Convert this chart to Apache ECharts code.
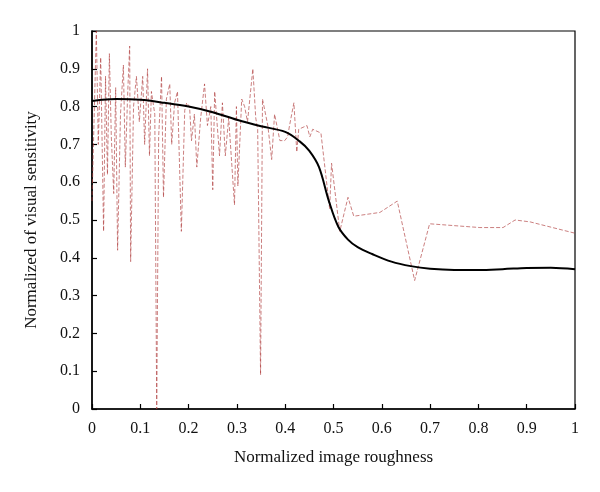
<!DOCTYPE html>
<html><head><meta charset="utf-8">
<script src="https://cdn.jsdelivr.net/npm/echarts@6/dist/echarts.min.js"></script>
<style>html,body{margin:0;padding:0;background:#fff}#c{width:600px;height:492px}</style>
</head><body><div id="c"></div>
<script>
var xTitle = 'Normalized image roughness';
var yTitle = 'Normalized of visual sensitivity';

var smoothX = [0, 0.05, 0.1, 0.15, 0.2, 0.25, 0.3, 0.35, 0.4, 0.43, 0.45, 0.47, 0.49, 0.51, 0.53, 0.55, 0.58, 0.62, 0.66, 0.70, 0.75, 0.80, 0.85, 0.90, 0.95, 1.0];
var smoothY = [0.815, 0.82, 0.818, 0.81, 0.80, 0.785, 0.765, 0.748, 0.733, 0.708, 0.683, 0.64, 0.552, 0.482, 0.448, 0.428, 0.41, 0.39, 0.378, 0.371, 0.368, 0.368, 0.370, 0.373, 0.374, 0.37];

var noisyX = [0, 0.009, 0.013, 0.018, 0.024, 0.028, 0.032, 0.036, 0.040, 0.045, 0.049, 0.053, 0.059, 0.065, 0.069, 0.074, 0.078, 0.080, 0.086, 0.092, 0.098, 0.105, 0.109, 0.115, 0.119, 0.123, 0.130, 0.134, 0.138, 0.144, 0.148, 0.154, 0.161, 0.165, 0.171, 0.177, 0.185, 0.192, 0.196, 0.202, 0.206, 0.212, 0.217, 0.225, 0.233, 0.239, 0.246, 0.250, 0.254, 0.264, 0.270, 0.276, 0.283, 0.295, 0.299, 0.302, 0.310, 0.316, 0.322, 0.333, 0.339, 0.343, 0.349, 0.353, 0.364, 0.372, 0.378, 0.389, 0.399, 0.405, 0.409, 0.418, 0.424, 0.428, 0.445, 0.451, 0.457, 0.474, 0.492, 0.496, 0.513, 0.530, 0.542, 0.596, 0.632, 0.668, 0.699, 0.803, 0.851, 0.876, 0.907, 1.0];
var noisyY = [0.55, 1.0, 0.70, 0.93, 0.47, 0.88, 0.62, 0.94, 0.72, 0.57, 0.85, 0.42, 0.78, 0.91, 0.64, 0.84, 0.96, 0.39, 0.80, 0.88, 0.76, 0.88, 0.70, 0.90, 0.67, 0.84, 0.78, 0.0, 0.72, 0.88, 0.56, 0.82, 0.86, 0.70, 0.81, 0.84, 0.47, 0.79, 0.81, 0.80, 0.71, 0.78, 0.64, 0.77, 0.86, 0.75, 0.80, 0.58, 0.84, 0.67, 0.81, 0.67, 0.77, 0.54, 0.80, 0.59, 0.82, 0.80, 0.76, 0.90, 0.77, 0.74, 0.09, 0.82, 0.75, 0.66, 0.78, 0.71, 0.71, 0.72, 0.75, 0.81, 0.68, 0.74, 0.75, 0.72, 0.74, 0.73, 0.53, 0.65, 0.47, 0.56, 0.51, 0.52, 0.55, 0.34, 0.49, 0.48, 0.48, 0.50, 0.495, 0.465];

function pairs(xs, ys) { return xs.map(function (x, i) { return [x, ys[i]]; }); }

var font = '"Liberation Serif", "DejaVu Serif", serif';
var chart = echarts.init(document.getElementById('c'), null, {renderer: 'canvas'});
chart.setOption({
  animation: false,
  backgroundColor: '#fff',
  grid: {left: 92, right: 25, top: 31, bottom: 83, show: true, borderColor: '#000', borderWidth: 1.2},
  xAxis: {
    type: 'value', min: 0, max: 1, interval: 0.1,
    name: xTitle, nameLocation: 'middle', nameGap: 40,
    nameTextStyle: {fontFamily: font, fontSize: 17, color: '#111'},
    axisLine: {show: true, lineStyle: {color: '#000', width: 1.5}},
    axisTick: {show: true, inside: true, length: 5, lineStyle: {color: '#000', width: 1.2}},
    axisLabel: {fontFamily: font, fontSize: 16, color: '#111', margin: 12,
      formatter: function (v) { return String(Math.round(v * 10) / 10); }},
    splitLine: {show: false}
  },
  yAxis: {
    type: 'value', min: 0, max: 1, interval: 0.1,
    name: yTitle, nameLocation: 'middle', nameGap: 52, nameRotate: 90,
    nameTextStyle: {fontFamily: font, fontSize: 17, color: '#111'},
    axisLine: {show: true, lineStyle: {color: '#000', width: 1.5}},
    axisTick: {show: true, inside: true, length: 5, lineStyle: {color: '#000', width: 1.2}},
    axisLabel: {fontFamily: font, fontSize: 16, color: '#111', margin: 12,
      formatter: function (v) { return String(Math.round(v * 10) / 10); }},
    splitLine: {show: false}
  },
  series: [
    {
      type: 'line', data: pairs(noisyX, noisyY), showSymbol: false, symbol: 'none',
      lineStyle: {color: 'rgba(175,60,60,0.65)', width: 1, type: [4, 2]}, z: 2
    },
    {
      type: 'line', data: pairs(smoothX, smoothY), showSymbol: false, symbol: 'none',
      smooth: 0.35,
      lineStyle: {color: '#000', width: 2}, z: 3
    }
  ]
});
</script></body></html>
